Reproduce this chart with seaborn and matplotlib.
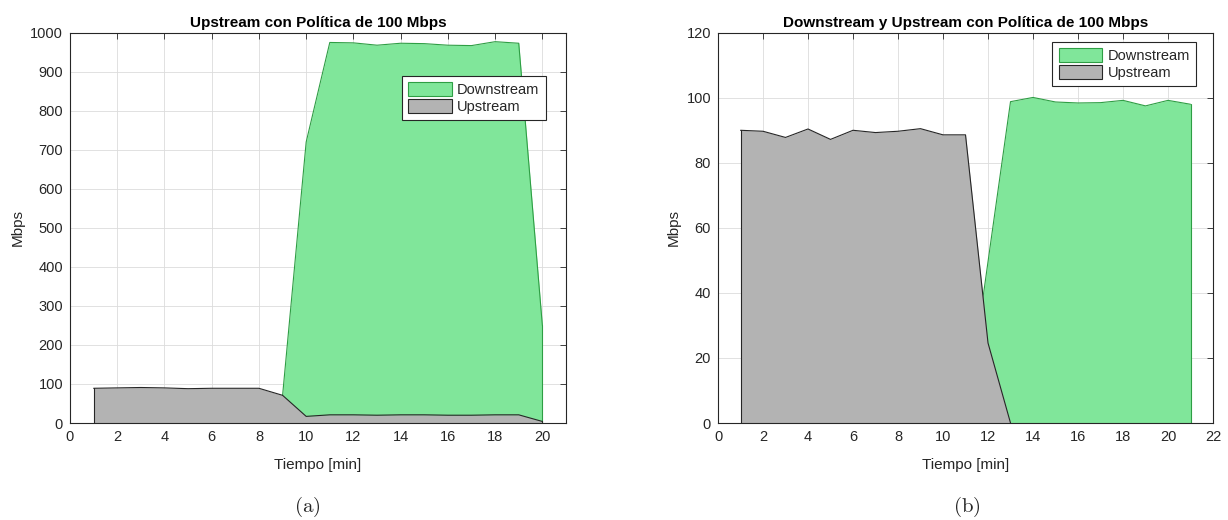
import numpy as np
import pandas as pd
import matplotlib
matplotlib.use("Agg")
import matplotlib.pyplot as plt
from matplotlib.patches import Patch
import seaborn as sns

# ---- data ----------------------------------------------------------------
# (a) Upstream con Política de 100 Mbps
up_a_t = list(range(1, 21))
up_a = [89, 90, 91, 90, 88, 89, 89, 89, 71, 17, 21, 21, 20, 21, 21, 20, 20, 21, 21, 4]
down_a_t = list(range(8, 21))
down_a = [0, 70, 720, 975, 974, 968, 973, 972, 968, 967, 977, 973, 250]

# (b) Downstream y Upstream con Política de 100 Mbps
up_b_t = list(range(1, 14))
up_b = [90.0, 89.7, 87.8, 90.4, 87.2, 90.0, 89.3, 89.7, 90.5, 88.6, 88.6, 24.6, 0]
down_b_t = list(range(11, 22))
down_b = [0, 49.6, 98.8, 100.1, 98.7, 98.4, 98.5, 99.2, 97.5, 99.2, 98.0]

titles = ["Upstream con Política de 100 Mbps",
          "Downstream y Upstream con Política de 100 Mbps"]
series_names = ["Downstream", "Upstream"]

# ---- style -----------------------------------------------------------------
sns.set_theme(style="white")
plt.rcParams["font.family"] = ["Liberation Sans", "DejaVu Sans"]
plt.rcParams["mathtext.fontset"] = "cm"

GREEN_FILL = "#80E69A"
GREEN_EDGE = "#2E9E44"
GRAY_FILL = "#B3B3B3"
GRAY_EDGE = "#262626"
TXT = "#262626"

fig = plt.figure(figsize=(12.28, 5.20), dpi=100)
ax_a = fig.add_axes([0.0570, 0.1865, 0.4039, 0.7506])
ax_b = fig.add_axes([0.5847, 0.1865, 0.4031, 0.7506])


def area(ax, t, v, fill, edge, z):
    df = pd.DataFrame({"t": t, "v": v})
    ax.fill_between(df["t"], 0, df["v"], color=fill, linewidth=0, zorder=z)
    sns.lineplot(data=df, x="t", y="v", ax=ax, color=edge, linewidth=0.8,
                 zorder=z + 0.1, estimator=None)
    # closing sides of the polygon down to the baseline
    ax.plot([t[0], t[0]], [0, v[0]], color=edge, linewidth=0.8, zorder=z + 0.1)
    ax.plot([t[-1], t[-1]], [0, v[-1]], color=edge, linewidth=0.8, zorder=z + 0.1)


panels = [
    (ax_a, down_a_t, down_a, up_a_t, up_a, (0, 21), np.arange(0, 21, 2),
     (0, 1000), np.arange(0, 1001, 100)),
    (ax_b, down_b_t, down_b, up_b_t, up_b, (0, 22), np.arange(0, 23, 2),
     (0, 120), np.arange(0, 121, 20)),
]

for i, (ax, dt, dv, ut, uv, xl, xt, yl, yt) in enumerate(panels):
    area(ax, dt, dv, GREEN_FILL, GREEN_EDGE, 2)
    area(ax, ut, uv, GRAY_FILL, GRAY_EDGE, 3)

    ax.set_xlim(*xl)
    ax.set_ylim(*yl)
    ax.set_xticks(xt)
    ax.set_yticks(yt)
    ax.grid(True, color="#DCDCDC", linewidth=0.6, zorder=0)
    ax.set_axisbelow(True)
    ax.tick_params(direction="in", top=True, right=True, length=4, width=0.6,
                   colors=TXT, labelsize=10.5, pad=5)
    for s in ax.spines.values():
        s.set_color(TXT)
        s.set_linewidth(0.8)
        s.set_zorder(5)

    ax.set_xlabel("Tiempo [min]", fontsize=11, color=TXT, labelpad=10)
    ax.set_ylabel("Mbps", fontsize=11, color=TXT, labelpad=4)
    ax.set_title(titles[i], fontsize=11, fontweight="bold", color="black", pad=4)

    handles = [Patch(facecolor=GREEN_FILL, edgecolor=GREEN_EDGE, linewidth=0.8),
               Patch(facecolor=GRAY_FILL, edgecolor=GRAY_EDGE, linewidth=0.8)]
    anchor = (0.9595, 0.890) if i == 0 else (0.9665, 0.977)
    leg = ax.legend(handles, series_names, loc="upper right",
                    bbox_to_anchor=anchor, fontsize=10.5, frameon=True,
                    fancybox=False, framealpha=1, edgecolor=TXT,
                    handlelength=3.0, handleheight=1.05, handletextpad=0.35,
                    labelspacing=0.15, borderpad=0.45, borderaxespad=0)
    leg.get_frame().set_linewidth(0.8)
    leg.set_zorder(6)
    for txt in leg.get_texts():
        txt.set_color(TXT)

fig.text(0.2500, 0.025, r"$\mathrm{(a)}$", ha="center", va="center", fontsize=15)
fig.text(0.7875, 0.025, r"$\mathrm{(b)}$", ha="center", va="center", fontsize=15)

fig.savefig("out.png", dpi=100)
